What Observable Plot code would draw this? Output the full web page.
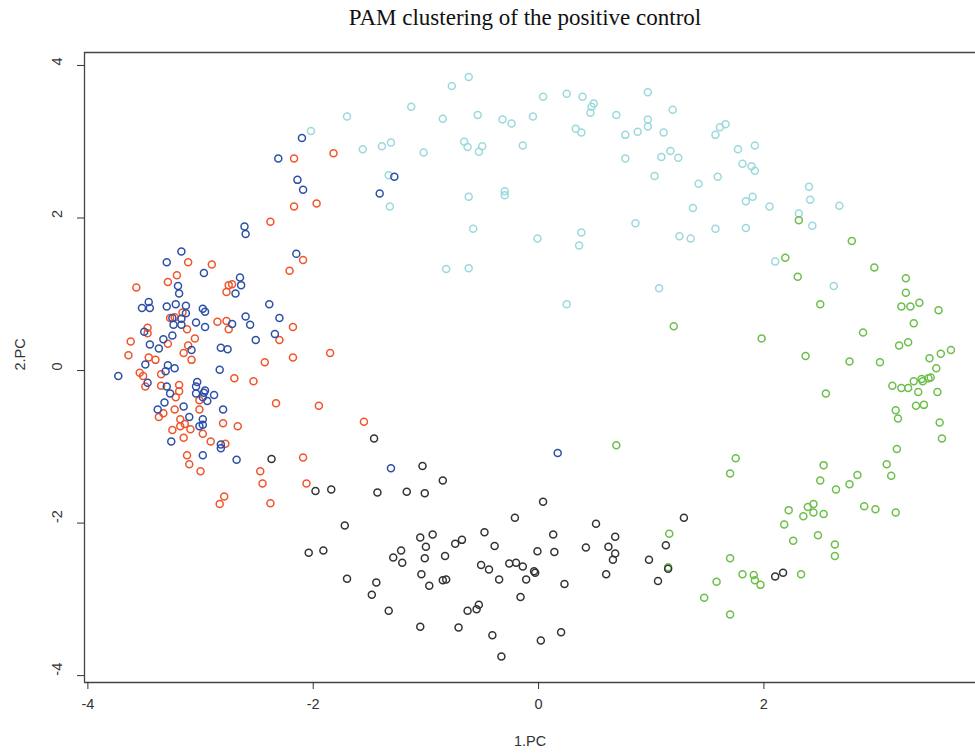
<!DOCTYPE html>
<html>
<head>
<meta charset="utf-8">
<script src="https://cdn.jsdelivr.net/npm/d3@7"></script>
<script src="https://cdn.jsdelivr.net/npm/@observablehq/plot@0.6"></script>
<style>
  html, body { margin: 0; padding: 0; background: #fff; overflow: hidden; }
  #title { position: relative; height: 40px; width: 975px; }
  #title span {
    position: absolute; left: 525px; top: 5px; transform: translateX(-50%);
    font-family: "Liberation Serif", "Times New Roman", serif; font-size: 23px; color: #111;
    white-space: nowrap;
  }
</style>
</head>
<body>
<div id="title"><span>PAM clustering of the positive control</span></div>
<div id="chart"></div>
<script>
// PAM cluster memberships projected on the first two principal components: [PC1, PC2]
const cluster1 = [[-1.70,3.33],[-2.02,3.14],[-1.56,2.90],[-1.39,2.94],[-1.31,2.99],[-0.62,3.85],[-0.77,3.73],[-1.13,3.46],[-0.85,3.30],[-0.54,3.35],[-0.32,3.29],[-0.24,3.24],[-0.05,3.33],[0.04,3.59],[0.25,3.63],[0.39,3.59],[0.49,3.50],[0.47,3.46],[0.46,3.38],[0.33,3.17],[0.38,3.12],[0.69,3.35],[0.97,3.65],[1.19,3.42],[0.97,3.29],[0.97,3.20],[0.77,3.09],[0.88,3.13],[1.11,3.12],[-0.66,3.00],[-0.63,2.93],[-0.50,2.94],[-0.53,2.87],[-0.14,2.95],[-1.02,2.86],[0.77,2.78],[1.09,2.80],[1.17,2.88],[1.24,2.79],[1.03,2.55],[-1.33,2.56],[-1.32,2.15],[-0.62,2.28],[-0.30,2.35],[-0.30,2.30],[-0.58,1.86],[-0.01,1.73],[0.38,1.81],[0.36,1.64],[0.86,1.93],[1.25,1.76],[-0.82,1.33],[-0.62,1.34],[1.07,1.08],[0.25,0.87],[1.66,3.23],[1.61,3.19],[1.57,3.09],[1.77,2.90],[1.92,2.95],[1.81,2.71],[1.89,2.68],[1.92,2.62],[1.59,2.54],[1.42,2.45],[2.40,2.41],[2.41,2.24],[1.90,2.28],[1.84,2.22],[2.05,2.15],[2.67,2.16],[1.37,2.13],[2.31,2.06],[2.43,1.90],[1.57,1.86],[1.84,1.87],[1.35,1.73],[2.10,1.43],[2.62,1.11]];

const cluster2 = [[2.31,1.97],[2.78,1.70],[2.19,1.48],[2.98,1.35],[2.30,1.23],[3.26,1.21],[3.26,1.02],[2.50,0.87],[3.22,0.84],[3.30,0.84],[3.38,0.89],[3.55,0.79],[3.33,0.62],[2.88,0.50],[1.98,0.42],[3.20,0.33],[3.28,0.37],[2.37,0.19],[2.76,0.12],[3.03,0.11],[3.47,0.16],[3.57,0.22],[3.66,0.27],[3.53,0.03],[3.14,-0.20],[3.22,-0.23],[3.28,-0.23],[3.33,-0.14],[3.40,-0.11],[3.41,-0.14],[3.46,-0.10],[3.48,-0.09],[3.37,-0.28],[3.54,-0.28],[3.35,-0.46],[3.42,-0.45],[2.55,-0.30],[3.17,-0.52],[3.19,-0.63],[3.56,-0.68],[3.58,-0.89],[3.18,-1.03],[1.75,-1.15],[1.70,-1.35],[2.53,-1.24],[3.09,-1.23],[2.83,-1.37],[3.13,-1.38],[2.50,-1.44],[2.64,-1.56],[2.76,-1.49],[2.22,-1.83],[2.39,-1.79],[2.44,-1.75],[2.44,-1.86],[2.35,-1.91],[2.53,-1.88],[2.89,-1.78],[2.99,-1.82],[3.17,-1.86],[2.18,-2.02],[2.26,-2.23],[2.48,-2.16],[2.63,-2.28],[2.63,-2.43],[1.70,-2.46],[1.81,-2.67],[1.91,-2.68],[1.92,-2.75],[1.97,-2.81],[2.33,-2.67],[1.58,-2.77],[1.47,-2.98],[1.70,-3.20],[1.20,0.58],[0.69,-0.98],[1.16,-2.14],[1.15,-2.58]];

const cluster3 = [[-1.46,-0.89],[-2.37,-1.16],[-1.98,-1.58],[-1.84,-1.56],[-1.43,-1.60],[-1.72,-2.03],[-2.04,-2.39],[-1.91,-2.36],[-1.70,-2.73],[-1.44,-2.78],[-1.48,-2.94],[-1.03,-1.25],[-0.85,-1.44],[-1.17,-1.59],[-1.01,-1.61],[0.04,-1.72],[-0.21,-1.93],[1.29,-1.93],[0.51,-2.01],[1.13,-2.29],[0.68,-2.18],[0.62,-2.31],[0.68,-2.40],[0.66,-2.48],[0.42,-2.32],[0.98,-2.48],[1.15,-2.60],[1.06,-2.76],[0.60,-2.67],[0.13,-2.15],[0.14,-2.38],[-0.01,-2.37],[0.23,-2.80],[-0.03,-2.65],[-0.04,-2.63],[-0.11,-2.74],[-0.14,-2.57],[-0.20,-2.52],[-0.26,-2.53],[-0.35,-2.74],[-0.16,-2.97],[-0.39,-2.30],[-0.48,-2.12],[-0.44,-2.61],[-0.51,-2.55],[-0.68,-2.22],[-0.74,-2.27],[-0.83,-2.43],[-0.94,-2.15],[-1.05,-2.19],[-1.00,-2.31],[-1.01,-2.46],[-1.22,-2.36],[-1.29,-2.45],[-1.21,-2.52],[-1.04,-2.67],[-0.97,-2.82],[-0.85,-2.75],[-0.82,-2.74],[-0.53,-3.07],[-0.55,-3.13],[-0.63,-3.15],[-1.33,-3.15],[-1.05,-3.36],[-0.71,-3.37],[-0.41,-3.47],[0.02,-3.54],[0.20,-3.43],[-0.33,-3.75],[2.10,-2.70],[2.17,-2.65]];

const cluster4 = [[-2.17,2.78],[-1.82,2.85],[-2.17,2.15],[-1.97,2.19],[-2.38,1.95],[-3.11,1.42],[-2.90,1.39],[-2.09,1.45],[-2.21,1.31],[-3.29,1.16],[-3.21,1.25],[-3.57,1.09],[-2.75,1.12],[-2.72,1.13],[-2.77,1.03],[-2.18,0.57],[-2.30,0.40],[-1.85,0.23],[-2.18,0.17],[-2.43,0.11],[-3.16,0.76],[-3.23,0.70],[-3.27,0.69],[-3.12,0.54],[-2.85,0.64],[-2.77,0.65],[-2.75,0.54],[-3.47,0.56],[-3.47,0.49],[-3.62,0.38],[-3.64,0.20],[-3.29,0.35],[-3.05,0.42],[-3.11,0.33],[-3.15,0.23],[-3.08,0.14],[-3.46,0.17],[-3.40,0.14],[-3.54,-0.03],[-3.51,-0.07],[-3.35,-0.05],[-2.70,-0.10],[-2.53,-0.14],[-3.49,-0.21],[-3.35,-0.20],[-3.19,-0.19],[-3.19,-0.27],[-3.22,-0.35],[-3.01,-0.39],[-3.01,-0.51],[-3.33,-0.56],[-3.37,-0.61],[-3.23,-0.51],[-3.18,-0.64],[-3.14,-0.70],[-3.18,-0.73],[-3.09,-0.77],[-3.25,-0.78],[-2.80,-0.69],[-2.67,-0.73],[-2.98,-0.83],[-3.15,-0.88],[-2.91,-0.93],[-2.33,-0.43],[-1.95,-0.46],[-1.55,-0.67],[-2.78,-0.96],[-3.12,-1.11],[-3.10,-1.23],[-2.09,-1.14],[-3.00,-1.32],[-2.47,-1.32],[-2.45,-1.48],[-2.06,-1.48],[-2.79,-1.65],[-2.83,-1.75],[-2.38,-1.74]];

const cluster5 = [[-2.10,3.05],[-2.31,2.78],[-1.41,2.32],[-1.28,2.54],[-2.14,2.50],[-2.09,2.37],[-2.61,1.89],[-2.60,1.79],[-3.17,1.56],[-3.30,1.42],[-2.15,1.53],[-2.97,1.28],[-3.20,1.11],[-3.19,1.01],[-2.65,1.22],[-2.64,1.12],[-2.69,1.01],[-2.39,0.87],[-2.30,0.69],[-2.34,0.48],[-3.46,0.90],[-3.52,0.82],[-3.45,0.82],[-3.30,0.84],[-3.22,0.87],[-3.13,0.85],[-2.98,0.81],[-2.96,0.77],[-3.25,0.69],[-3.13,0.75],[-3.17,0.68],[-3.24,0.60],[-3.17,0.60],[-3.04,0.63],[-2.96,0.57],[-2.72,0.61],[-2.60,0.71],[-2.56,0.60],[-2.51,0.40],[-3.50,0.51],[-3.45,0.34],[-3.37,0.29],[-3.33,0.41],[-3.25,0.46],[-3.08,0.27],[-2.82,0.30],[-2.76,0.28],[-3.49,0.08],[-3.29,0.07],[-3.23,0.03],[-3.31,-0.01],[-2.83,0.01],[-3.73,-0.07],[-3.47,-0.16],[-3.30,-0.21],[-3.27,-0.30],[-3.03,-0.15],[-3.04,-0.21],[-2.96,-0.26],[-2.97,-0.29],[-3.04,-0.30],[-2.88,-0.32],[-2.98,-0.35],[-2.94,-0.40],[-3.32,-0.42],[-3.38,-0.51],[-3.15,-0.47],[-2.80,-0.51],[-3.10,-0.61],[-2.98,-0.64],[-3.01,-0.73],[-2.98,-0.71],[-3.26,-0.93],[-2.82,-0.97],[-2.82,-1.02],[-2.98,-1.11],[-2.68,-1.17],[0.17,-1.08],[-1.31,-1.28]];

// Drawing order and colours of the five clusters
const clusterIds = ["C1", "C2", "C3", "C4", "C5"];
const clusterColors = ["#9bd9dd", "#6cbf4a", "#333333", "#f0552b", "#2c4fa8"];
const clusterPoints = [cluster1, cluster2, cluster3, cluster4, cluster5];

const xTicks = [-4, -2, 0, 2];
const yTicks = [-4, -2, 0, 2, 4];
const xDomain = [-4.03, 3.878];
const yDomain = [-4.09, 4.17];

const rows = clusterPoints.flatMap((pts, i) =>
  pts.map(([pc1, pc2]) => ({pc1, pc2, cluster: clusterIds[i]})));

const chart = Plot.plot({
  width: 975,
  height: 716,
  marginTop: 12,
  marginRight: 0,
  marginBottom: 74,
  marginLeft: 84,
  x: {domain: xDomain},
  y: {domain: yDomain},
  color: {type: "ordinal", domain: clusterIds, range: clusterColors},
  style: {fontFamily: "'Liberation Sans', Arial, sans-serif", color: "#333", background: "#fff", overflow: "visible"},
  marks: [
    // box: left, top and bottom edges
    Plot.ruleX([xDomain[0]], {stroke: "#444", strokeWidth: 1.3}),
    Plot.ruleY(yDomain, {stroke: "#444", strokeWidth: 1.3}),
    Plot.axisX(xTicks, {tickSize: 7, tickPadding: 9, tickFormat: d => String(d), label: null, fontSize: 14.5}),
    Plot.axisY(yTicks, {tickSize: 7, tickFormat: () => "", label: null}),
    Plot.text(yTicks, {y: d => d, text: d => String(d), frameAnchor: "left", dx: -27, rotate: -90, fill: "#333", fontSize: 14.5}),
    Plot.text(["1.PC"], {frameAnchor: "bottom", dy: 63, fill: "#333", fontSize: 14.5}),
    Plot.text(["2.PC"], {y: 0, frameAnchor: "left", dx: -64, rotate: -90, fill: "#333", fontSize: 14.5}),
    Plot.dot(rows, {x: "pc1", y: "pc2", stroke: "cluster", r: 3.5, strokeWidth: 1.5, fill: "none"})
  ]
});
document.getElementById("chart").appendChild(chart);
</script>
</body>
</html>
